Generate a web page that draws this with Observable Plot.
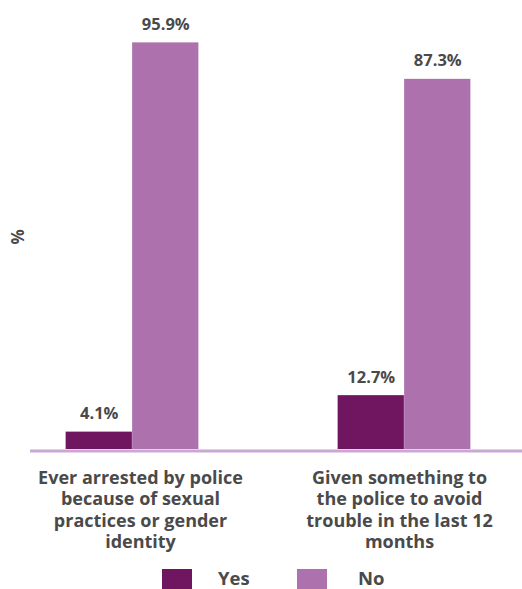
<!DOCTYPE html>
<html>
<head>
<meta charset="utf-8">
<script src="https://cdn.jsdelivr.net/npm/d3@7"></script>
<script src="https://cdn.jsdelivr.net/npm/@observablehq/plot@0.6"></script>
<style>
  html, body { margin: 0; padding: 0; background: #fff; }
  body { width: 522px; height: 589px; overflow: hidden; font-family: "Open Sans", sans-serif; }
  #wrap { position: relative; width: 522px; height: 589px; }
  #legend { position: absolute; left: 0; top: 556px; width: 522px; height: 33px; }
  .sw { position: absolute; top: 13px; width: 30px; height: 22px; }
  .lt { position: absolute; top: 10px; font-weight: 700; font-size: 18.5px; color: #4a4a4a; line-height: 24px; }
</style>
</head>
<body>
<div id="wrap"><div id="chart"></div><div id="legend"></div></div>
<script>
const groups = ["g1", "g2"];
const groupLabels = [
  "Ever arrested by police\nbecause of sexual\npractices or gender\nidentity",
  "Given something to\nthe police to avoid\ntrouble in the last 12\nmonths"
];
const answers = ["Yes", "No"];
const yesValues = [4.1, 12.7];
const noValues = [95.9, 87.3];
const colors = ["#701660", "#ad71ad"];

const rows = [];
groups.forEach((g, i) => {
  rows.push({group: g, answer: "Yes", value: yesValues[i]});
  rows.push({group: g, answer: "No", value: noValues[i]});
});
const yesRows = rows.filter(d => d.answer === "Yes");
const noRows = rows.filter(d => d.answer === "No");
const labelMap = new Map(groups.map((g, i) => [g, groupLabels[i]]));

const textColor = "#4a4a4a";
const bw = 272.5 * 0.5; // bandwidth
const barW = 66.5;
const outer = bw / 2 - barW;
const half = bw / 2;

const axisOpts = {tickSize: 0, tickPadding: 19, tickFormat: g => labelMap.get(g), fontSize: 18, fontWeight: 700, lineHeight: 1.19, fill: textColor, label: null};

const chart = Plot.plot({
  width: 522,
  height: 556,
  marginLeft: 30,
  marginRight: 16.5,
  marginTop: 25,
  marginBottom: 107,
  style: {fontFamily: "'Open Sans', sans-serif", color: textColor, background: "#fff"},
  x: {domain: groups, paddingInner: 0.5, paddingOuter: 0.1225, label: null},
  y: {domain: [0, 100], axis: null},
  color: {domain: answers, range: colors},
  marks: [
    Plot.barY(yesRows, {x: "group", y: "value", fill: "answer", insetLeft: outer, insetRight: half}),
    Plot.barY(noRows, {x: "group", y: "value", fill: "answer", insetLeft: half, insetRight: outer}),
    Plot.ruleY([0], {stroke: "#c9a9d3", strokeWidth: 3, insetRight: -16.5, dy: 1.5}),
    Plot.text(yesRows, {x: "group", y: "value", text: d => d.value.toFixed(1) + "%", dx: -barW / 2, dy: -13, lineAnchor: "bottom", fontSize: 16.5, fontWeight: 700, fill: textColor}),
    Plot.text(noRows, {x: "group", y: "value", text: d => d.value.toFixed(1) + "%", dx: barW / 2, dy: -13, lineAnchor: "bottom", fontSize: 16.5, fontWeight: 700, fill: textColor}),
    Plot.text(["%"], {frameAnchor: "left", rotate: -90, dx: -12, dy: 7, fontSize: 17, fontWeight: 700, fill: textColor}),
    Plot.axisX({...axisOpts, ticks: [groups[0]], dx: 8}),
    Plot.axisX({...axisOpts, ticks: [groups[1]], dx: -5})
  ]
});
document.getElementById("chart").appendChild(chart);

const legend = document.getElementById("legend");
const swX = [162, 297];
const txX = [218, 358];
answers.forEach((a, i) => {
  const s = document.createElement("div");
  s.className = "sw";
  s.style.left = swX[i] + "px";
  s.style.background = colors[i];
  legend.appendChild(s);
  const t = document.createElement("div");
  t.className = "lt";
  t.style.left = txX[i] + "px";
  t.textContent = a;
  legend.appendChild(t);
});
</script>
</body>
</html>
